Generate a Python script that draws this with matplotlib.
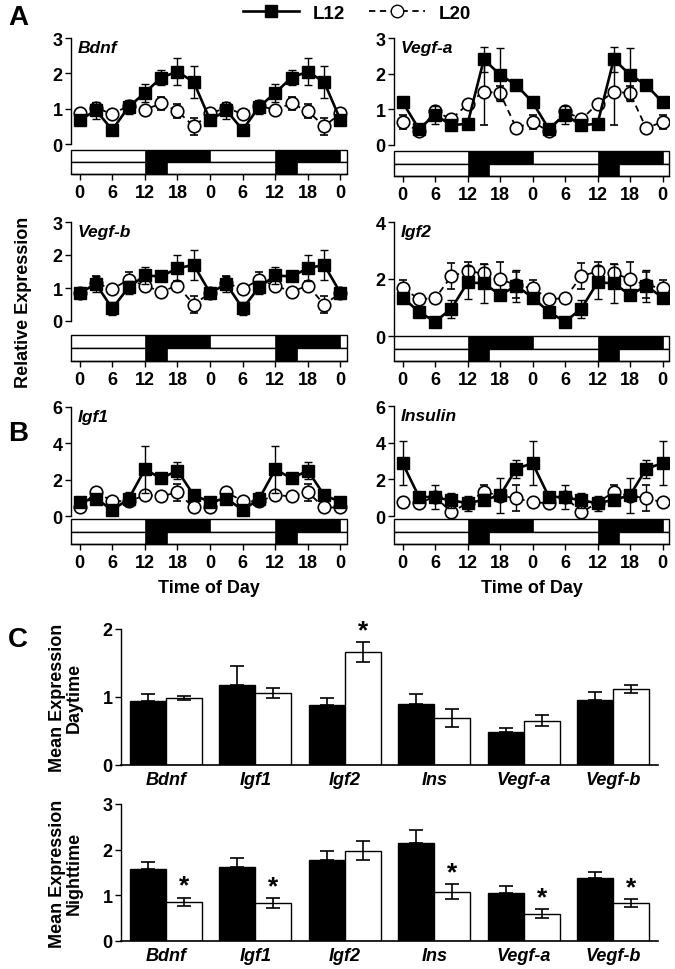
import matplotlib.pyplot as plt
import numpy as np
from matplotlib.patches import Rectangle
from matplotlib.lines import Line2D

plt.rcParams['font.family'] = ['Liberation Sans', 'DejaVu Sans']
plt.rcParams['font.weight'] = 'bold'

# ---- time course data (values at 0,3,...,21 h, double-plotted) ----
hour_ticks = [0, 6, 12, 18, 24, 30, 36, 42, 48]
hour_labels = ['0', '6', '12', '18', '0', '6', '12', '18', '0']

bdnf_l12 = [0.68, 0.95, 0.40, 1.05, 1.45, 1.88, 2.05, 1.75]
bdnf_l12_err = [0.12, 0.25, 0.15, 0.20, 0.25, 0.22, 0.38, 0.45]
bdnf_l20 = [0.87, 1.02, 0.85, 1.08, 0.97, 1.15, 0.93, 0.50]
bdnf_l20_err = [0.06, 0.15, 0.08, 0.15, 0.08, 0.18, 0.20, 0.25]

vegfa_l12 = [1.20, 0.45, 0.85, 0.55, 0.60, 2.40, 1.97, 1.68]
vegfa_l12_err = [0.10, 0.08, 0.25, 0.08, 0.10, 0.35, 0.75, 0.08]
vegfa_l20 = [0.65, 0.38, 0.95, 0.72, 1.15, 1.50, 1.45, 0.47]
vegfa_l20_err = [0.20, 0.05, 0.10, 0.05, 0.10, 0.95, 0.20, 0.10]

vegfb_l12 = [0.85, 1.12, 0.38, 1.02, 1.38, 1.35, 1.60, 1.70]
vegfb_l12_err = [0.08, 0.25, 0.20, 0.20, 0.25, 0.10, 0.40, 0.45]
vegfb_l20 = [0.85, 1.15, 0.97, 1.25, 1.07, 0.89, 1.07, 0.50]
vegfb_l20_err = [0.06, 0.20, 0.10, 0.25, 0.10, 0.08, 0.15, 0.25]

igf2_l12 = [1.35, 0.85, 0.50, 0.96, 1.88, 1.85, 1.44, 1.76]
igf2_l12_err = [0.10, 0.08, 0.08, 0.32, 0.58, 0.68, 0.15, 0.55]
igf2_l20 = [1.68, 1.30, 1.32, 2.10, 2.27, 2.20, 2.00, 1.78]
igf2_l20_err = [0.28, 0.10, 0.10, 0.45, 0.32, 0.32, 0.60, 0.45]

igf1_l12 = [0.78, 0.96, 0.33, 0.93, 2.57, 2.07, 2.50, 1.14]
igf1_l12_err = [0.15, 0.20, 0.15, 0.40, 1.30, 0.15, 0.45, 0.20]
igf1_l20 = [0.47, 1.30, 0.83, 0.80, 1.14, 1.09, 1.30, 0.47]
igf1_l20_err = [0.08, 0.10, 0.10, 0.10, 0.10, 0.10, 0.47, 0.10]

ins_l12 = [2.88, 1.05, 1.02, 0.85, 0.70, 0.88, 1.13, 2.58]
ins_l12_err = [1.20, 0.10, 0.65, 0.40, 0.40, 0.30, 0.95, 0.50]
ins_l20 = [0.75, 0.70, 1.05, 0.20, 0.72, 1.32, 1.10, 0.97]
ins_l20_err = [0.10, 0.10, 0.10, 0.10, 0.10, 0.35, 0.20, 0.72]

# light/dark schedule (dark intervals, hours)
dark_l12 = [(12, 24), (36, 48)]
dark_l20 = [(12, 16), (36, 40)]

# ---- panel C data ----
genes_c = ['Bdnf', 'Igf1', 'Igf2', 'Ins', 'Vegf-a', 'Vegf-b']
day_l12 = [0.94, 1.18, 0.88, 0.90, 0.49, 0.96]
day_l12_err = [0.11, 0.28, 0.10, 0.15, 0.05, 0.11]
day_l20 = [0.98, 1.06, 1.66, 0.69, 0.65, 1.12]
day_l20_err = [0.03, 0.07, 0.15, 0.13, 0.08, 0.06]
day_sig = [False, False, True, False, False, False]
night_l12 = [1.57, 1.62, 1.78, 2.15, 1.05, 1.39]
night_l12_err = [0.16, 0.19, 0.20, 0.28, 0.15, 0.12]
night_l20 = [0.86, 0.83, 1.98, 1.08, 0.60, 0.83]
night_l20_err = [0.09, 0.11, 0.20, 0.17, 0.09, 0.08]
night_sig = [True, True, False, True, True, True]

W, H = 675, 970
fig = plt.figure(figsize=(W / 100, H / 100), dpi=100)

FS = 13  # main label size


def add_ax(x0, x1, ytop, ybot):
    return fig.add_axes([x0 / W, 1 - ybot / H, (x1 - x0) / W, (ybot - ytop) / H])


def double_plot(day):
    # same 24 h profile shown twice, plus the closing midnight point
    return np.array(list(day) + list(day) + [day[0]])


hours = np.arange(0, 49, 3)
XLIM = (-1.6, 49.2)


def time_panel(gene, l12, l12e, l20, l20e, x0, x1, ytop, zero, boxtop, boxbot,
               ymax, yticks, xlabel=False):
    ax = add_ax(x0, x1, ytop, boxbot)
    ppu = (zero - ytop) / ymax
    ylo = -(boxbot - zero) / ppu
    ybt = -(boxtop - zero) / ppu
    ymid = (ylo + ybt) / 2
    ax.set_xlim(*XLIM)
    ax.set_ylim(ylo, ymax)

    ax.errorbar(hours, double_plot(l20), yerr=double_plot(l20e), color='black',
                ls=(0, (3.5, 2.5)), lw=1.3, marker='o', ms=9, mfc='white',
                mec='black', mew=1.2, capsize=3, elinewidth=1, capthick=1, zorder=3)
    ax.errorbar(hours, double_plot(l12), yerr=double_plot(l12e), color='black',
                ls='-', lw=1.9, marker='s', ms=8.5, mfc='black', mec='black',
                capsize=3, elinewidth=1, capthick=1, zorder=4)

    # light/dark bars
    for lo, hi, sched in [(ymid, ybt, dark_l12), (ylo, ymid, dark_l20)]:
        ax.add_patch(Rectangle((XLIM[0], lo), XLIM[1] - XLIM[0], hi - lo,
                               fc='white', ec='black', lw=1, zorder=1, clip_on=False))
        for a, b in sched:
            ax.add_patch(Rectangle((a, lo), b - a, hi - lo, fc='black', ec='black',
                                   lw=0.5, zorder=2))

    for s in ['top', 'right']:
        ax.spines[s].set_visible(False)
    ax.spines['left'].set_bounds(0, ymax)
    ax.spines['left'].set_linewidth(1)
    ax.spines['bottom'].set_linewidth(1)
    ax.set_yticks(yticks)
    ax.set_xticks(hour_ticks)
    ax.set_xticklabels(hour_labels)
    ax.tick_params(axis='both', labelsize=FS, length=4, width=1, pad=2)
    ax.tick_params(axis='x', pad=3)
    for lab in ax.get_xticklabels() + ax.get_yticklabels():
        lab.set_fontweight('bold')
    ax.annotate(gene, xy=(0, 1), xycoords='axes fraction', xytext=(7, -2),
                textcoords='offset pixels', ha='left', va='top', fontsize=12.5,
                fontstyle='italic', fontweight='bold')
    if xlabel:
        ax.set_xlabel('Time of Day', fontsize=FS, fontweight='bold', labelpad=6)
    return ax


time_panel('Bdnf', bdnf_l12, bdnf_l12_err, bdnf_l20, bdnf_l20_err,
           71, 347, 39, 145, 151, 175, 3, [0, 1, 2, 3])
time_panel('Vegf-a', vegfa_l12, vegfa_l12_err, vegfa_l20, vegfa_l20_err,
           394, 669, 39, 146, 152, 177, 3, [0, 1, 2, 3])
time_panel('Vegf-b', vegfb_l12, vegfb_l12_err, vegfb_l20, vegfb_l20_err,
           71, 347, 223, 322, 336, 362, 3, [0, 1, 2, 3])
time_panel('Igf2', igf2_l12, igf2_l12_err, igf2_l20, igf2_l20_err,
           394, 669, 223, 337, 337, 362, 4, [0, 2, 4])
time_panel('Igf1', igf1_l12, igf1_l12_err, igf1_l20, igf1_l20_err,
           71, 347, 408, 517, 520, 545, 6, [0, 2, 4, 6], xlabel=True)
time_panel('Insulin', ins_l12, ins_l12_err, ins_l20, ins_l20_err,
           394, 669, 407, 517, 520, 545, 6, [0, 2, 4, 6], xlabel=True)

fig.text(24 / W, 1 - 302 / H, 'Relative Expression', rotation=90, ha='center',
         va='center', fontsize=FS, fontweight='bold')

# legend
handles = [Line2D([], [], color='black', lw=1.9, marker='s', ms=9, mfc='black'),
           Line2D([], [], color='black', lw=1.3, ls=(0, (3.5, 2.5)), marker='o',
                  ms=9, mfc='white', mec='black')]
fig.legend(handles, ['L12', 'L20'], loc='center', bbox_to_anchor=(357 / W, 1 - 14 / H),
           ncol=2, frameon=False, handlelength=3.0, columnspacing=1.3,
           handletextpad=0.7, prop={'weight': 'bold', 'size': 13.5})

# panel letters
for letter, x, y in [('A', 18, 18), ('B', 18, 434), ('C', 18, 640)]:
    fig.text(x / W, 1 - y / H, letter, fontsize=20, fontweight='bold',
             ha='center', va='center')


def bar_panel(ytop, ybot, ymax, yticks, l12, l12e, l20, l20e, sig, ylabel):
    ax = add_ax(121, 658, ytop, ybot)
    x = np.arange(len(genes_c))
    w = 0.4
    ax.bar(x - w / 2, l12, w, color='black', edgecolor='black', lw=1)
    ax.errorbar(x - w / 2, l12, yerr=[np.zeros(len(l12)), l12e], fmt='none',
                ecolor='black', elinewidth=1.2, capsize=5, capthick=1.2)
    ax.bar(x + w / 2, l20, w, color='white', edgecolor='black', lw=1)
    ax.errorbar(x + w / 2, l20, yerr=l20e, fmt='none', ecolor='black',
                elinewidth=1.2, capsize=5, capthick=1.2)
    for i, s in enumerate(sig):
        if s:
            ax.annotate('*', xy=(x[i] + w / 2, l20[i] + l20e[i]), xytext=(0, 0),
                        textcoords='offset points', ha='center', va='bottom',
                        fontsize=19, fontweight='bold')
    ax.set_xlim(-0.5, 5.5)
    ax.set_ylim(0, ymax)
    for s in ['top', 'right']:
        ax.spines[s].set_visible(False)
    ax.spines['left'].set_linewidth(1)
    ax.spines['bottom'].set_linewidth(1.2)
    ax.set_yticks(yticks)
    ax.set_xticks(x)
    ax.set_xticklabels(genes_c, fontstyle='italic', fontweight='bold', fontsize=FS)
    ax.tick_params(axis='x', length=0, pad=4)
    ax.tick_params(axis='y', labelsize=FS, length=4, width=1, pad=2)
    for lab in ax.get_yticklabels():
        lab.set_fontweight('bold')
    ax.set_ylabel(ylabel, fontsize=FS, fontweight='bold', labelpad=14,
                  linespacing=1.0)
    return ax


bar_panel(630, 766, 2, [0, 1, 2], day_l12, day_l12_err, day_l20, day_l20_err,
          day_sig, 'Mean Expression\nDaytime')
bar_panel(805, 942, 3, [0, 1, 2, 3], night_l12, night_l12_err, night_l20,
          night_l20_err, night_sig, 'Mean Expression\nNighttime')

fig.savefig('out.png', dpi=100)
